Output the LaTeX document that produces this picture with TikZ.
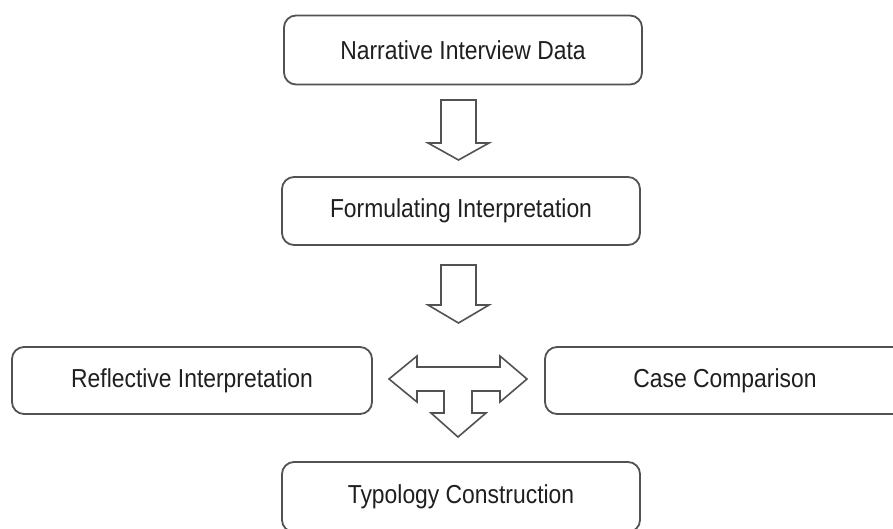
\documentclass[tikz,border=0pt]{standalone}
\usepackage{fontspec}
\setmainfont[FakeStretch=0.88]{Liberation Sans}
\begin{document}
\begin{tikzpicture}[x=1pt,y=-1pt,
  box/.style={draw=black!68, line width=1.8pt, rounded corners=12pt, fill=white,
    inner sep=0pt, text=black!88, font=\fontsize{26}{31}\selectfont},
  blockarrow/.style={draw=black!68, line width=1.6pt, fill=white, line join=miter}]
\useasboundingbox (0,0) rectangle (893,529);
\clip (0,0) rectangle (893,529);
\node[box, minimum width=358pt, minimum height=69pt] (nid) at (463,50) {Narrative Interview Data};
\node[box, minimum width=358pt, minimum height=68pt] (fi) at (461,211) {Formulating Interpretation};
\node[box, minimum width=360pt, minimum height=67pt] (ri) at (192,380.5) {Reflective Interpretation};
\node[box, minimum width=360pt, minimum height=67pt] (cc) at (725,380.5) {Case Comparison};
\node[box, minimum width=358pt, minimum height=70pt] (tc) at (461,497) {Typology Construction};
% arrow 1
\draw[blockarrow] (441,100) -- (476,100) -- (476,143) -- (489,143) -- (458.5,160)
  -- (428,143) -- (441,143) -- cycle;
% arrow 2
\draw[blockarrow] (441,265) -- (476,265) -- (476,305) -- (489,305) -- (458.5,323)
  -- (428,305) -- (441,305) -- cycle;
% T arrow
\draw[blockarrow] (389,379) -- (417,356) -- (417,367) -- (500,367) -- (500,356)
  -- (527,379) -- (500,402) -- (500,391) -- (472,391) -- (472,413) -- (486,413)
  -- (458,437) -- (431,413) -- (444,413) -- (444,391) -- (417,391) -- (417,402) -- cycle;
\end{tikzpicture}
\end{document}
